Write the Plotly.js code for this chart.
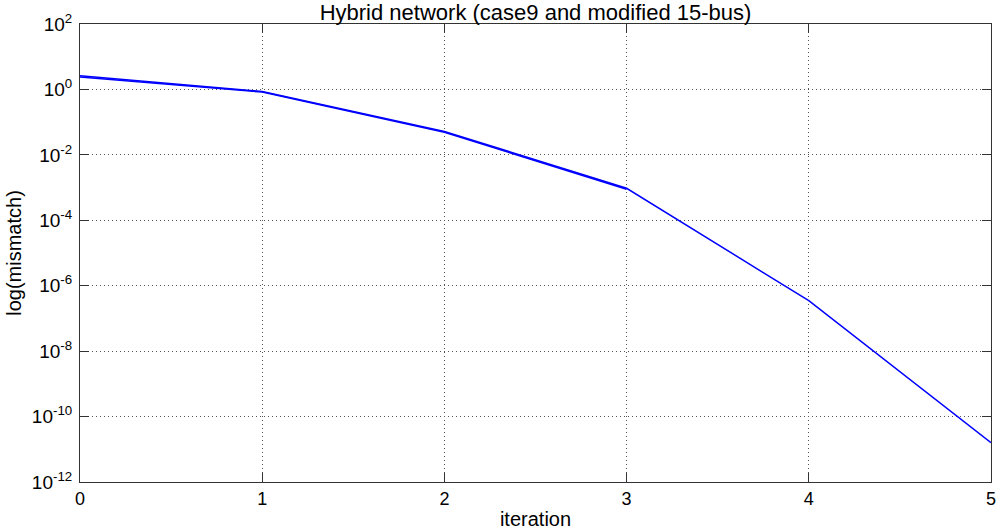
<!DOCTYPE html>
<html>
<head>
<meta charset="utf-8">
<script src="https://cdn.plot.ly/plotly-3.0.1.min.js"></script>
<style>
  html, body { margin: 0; padding: 0; background: #fff; }
  #chart { width: 1000px; height: 531px; }
</style>
</head>
<body>
<div id="chart"></div>
<script>
// Newton iterations and the power-flow mismatch after each one
const iteration = [0, 1, 2, 3, 4, 5];
const mismatchHybrid = [2.6, 0.86, 0.052, 9.5e-4, 3.5e-7, 1.6e-11];
// second run overlapping the first for the early iterations
const iterationB = [0, 1, 2, 3];
const mismatchB = [2.4, 0.83, 0.049, 8.9e-4];

const yExponents = [-12, -10, -8, -6, -4, -2, 0, 2];
const yTickVals = yExponents.map(e => Math.pow(10, e));
const yTickText = yExponents.map(e => '10<sup>' + e + '</sup>');
const xTickVals = [0, 1, 2, 3, 4, 5];

const lineStyle = { color: '#0000ff', width: 1.5 };

const traces = [
  { x: iterationB, y: mismatchB, mode: 'lines', line: lineStyle, hoverinfo: 'x+y' },
  { x: iteration, y: mismatchHybrid, mode: 'lines', line: lineStyle, hoverinfo: 'x+y' }
];

const axisCommon = {
  showline: true,
  linecolor: '#333333',
  linewidth: 1,
  mirror: 'ticks',
  ticks: 'inside',
  ticklen: 9,
  tickcolor: '#333333',
  tickwidth: 1,
  showgrid: true,
  gridcolor: '#555555',
  griddash: '1px,3px',
  gridwidth: 1,
  zeroline: false,
  tickfont: { family: 'Liberation Sans, Arial, sans-serif', size: 18, color: '#000' }
};

const layout = {
  width: 1000,
  height: 531,
  margin: { l: 80, r: 9, t: 24, b: 49 },
  paper_bgcolor: '#ffffff',
  plot_bgcolor: '#ffffff',
  showlegend: false,
  font: { family: 'Liberation Sans, Arial, sans-serif', color: '#000' },
  title: {
    text: 'Hybrid network (case9 and modified 15-bus)',
    font: { size: 22, color: '#000' },
    xref: 'paper', x: 0.5, xanchor: 'center',
    yref: 'container', y: 0.976, yanchor: 'middle'
  },
  xaxis: Object.assign({}, axisCommon, {
    range: [0, 5],
    tickvals: xTickVals,
    ticktext: xTickVals.map(String),
    title: { text: 'iteration', font: { size: 20, color: '#000' }, standoff: 4 }
  }),
  yaxis: Object.assign({}, axisCommon, {
    type: 'log',
    range: [-12, 2],
    tickvals: yTickVals,
    ticktext: yTickText,
    tickfont: { family: 'Liberation Sans, Arial, sans-serif', size: 19, color: '#000' },
    ticklabelstandoff: 3,
    title: { text: 'log(mismatch)', font: { size: 20, color: '#000' }, standoff: 4 }
  })
};

Plotly.newPlot('chart', traces, layout, { displayModeBar: false, staticPlot: true });
</script>
</body>
</html>
